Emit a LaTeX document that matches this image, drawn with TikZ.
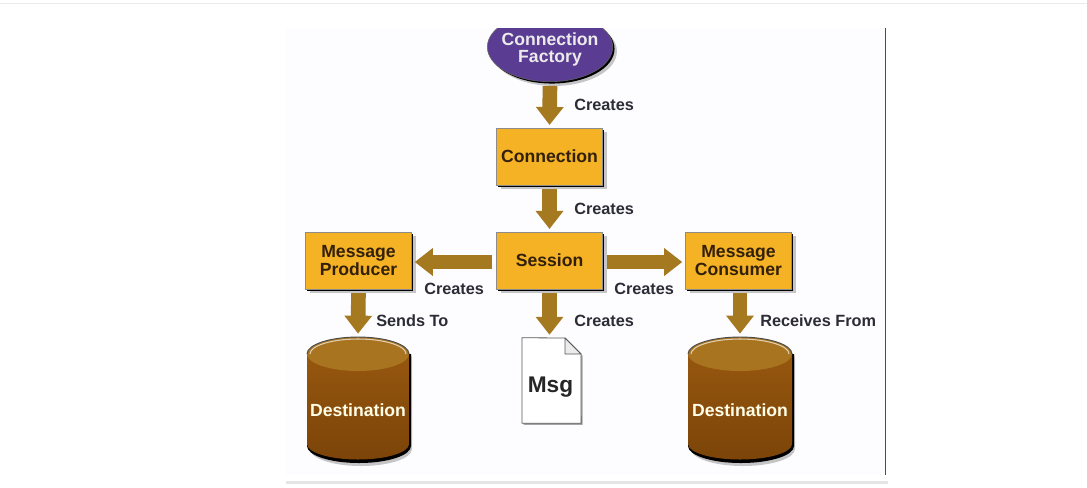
\documentclass[tikz,border=0pt]{standalone}
\usepackage{fontspec}
\setmainfont{Liberation Sans}
\usetikzlibrary{arrows.meta,shapes.geometric,shadows}
\definecolor{boxfill}{HTML}{F4B224}
\definecolor{flowc}{HTML}{A5791F}
\definecolor{cylbody}{HTML}{96570F}
\definecolor{cylbodyd}{HTML}{7C4409}
\definecolor{cyltop}{HTML}{A8741F}
\definecolor{factoryc}{HTML}{5A3C92}
\definecolor{inkb}{HTML}{33200A}
\definecolor{inkl}{HTML}{2C2C36}
\definecolor{panel}{HTML}{FDFCFE}
\tikzset{
  softshadow/.style={general shadow={fill=black,fill opacity=.22,shadow xshift=3.2pt,shadow yshift=-3.2pt}},
  hardshadow/.style={general shadow={fill=black,shadow xshift=1.4pt,shadow yshift=-1.4pt}},
  boxn/.style={rectangle,softshadow,hardshadow,fill=boxfill,draw=black!45,line width=.4pt,minimum width=79.6pt,minimum height=42.5pt,inner sep=0pt,align=center,
    font=\fontsize{13.2pt}{13.2pt}\selectfont\bfseries,text=inkb},
  factoryn/.style={ellipse,softshadow,hardshadow,fill=factoryc,draw=black!60,line width=.4pt,minimum width=94pt,minimum height=52pt,inner sep=0pt},
  factoryt/.style={inner sep=0pt,align=center,font=\fontsize{13.2pt}{13.2pt}\selectfont\bfseries,text=white!92!black},
  cyln/.style={rectangle,minimum height=94pt,inner sep=0pt,align=center,
    font=\fontsize{13.2pt}{13pt}\selectfont\bfseries,text=white!90!yellow},
  flow/.style={draw=flowc,line width=11pt,-{Triangle[width=20pt,length=13.5pt,fill=flowc]},shorten >=2.2pt,shorten <=3pt},
  lab/.style={anchor=west,inner sep=0pt,text=inkl,font=\fontsize{12.2pt}{13pt}\selectfont\bfseries},
  msgtext/.style={inner sep=0pt,text=black!85,font=\fontsize{17pt}{20pt}\selectfont\bfseries},
}
% cylinder: centre x, half width (the y axis points down, so arcs through 270 bulge upwards)
\newcommand{\destshape}[2]{%
  \path[fill=black,fill opacity=.22] (#1-#2+3,358) -- (#1-#2+3,449) arc[start angle=180,end angle=0,x radius=#2,y radius=17] -- (#1+#2+3,358) arc[start angle=360,end angle=180,x radius=#2,y radius=17] -- cycle;
  \path[fill=black] (#1-#2,354) -- (#1-#2,446) arc[start angle=180,end angle=0,x radius=#2+1,y radius=17] -- (#1+#2+2,354) -- cycle;
  \path[top color=cylbody,bottom color=cylbodyd] (#1-#2,354) -- (#1-#2,444) arc[start angle=180,end angle=0,x radius=#2,y radius=15.5] -- (#1+#2,354) -- cycle;
  \path[fill=cyltop] (#1,354) ellipse[x radius=#2,y radius=17];
  \draw[black!70,line width=.7pt] (#1-#2,354) arc[start angle=180,end angle=360,x radius=#2,y radius=17];
  \draw[white!65!cyltop,line width=.8pt] (#1-#2+3,354) arc[start angle=180,end angle=360,x radius=#2-3,y radius=15];
}
\begin{document}
\begin{tikzpicture}[x=.75pt,y=-.75pt]
\useasboundingbox (0,0) rectangle (1087,487);
\fill[white] (0,0) rectangle (1087,487);
\fill[black!8] (0,2.5) rectangle (1087,3.8);
\fill[panel] (286,28) rectangle (885,475);
\fill[black!10] (286,480.5) rectangle (888,483.5);
\fill[black!70] (885,28) rectangle (886.3,475);

\begin{scope}
\clip (440,28) rectangle (660,100);
\node[factoryn] (factory) at (550,47) {};
\end{scope}
\node[factoryt] (factorytext) at (550,49.5) {Connection\\Factory};

\node[boxn] (conn) at (549.5,156.5) {Connection};
\node[boxn] (sess) at (549.5,260.5) {Session};
\node[boxn] (prod) at (358.5,260.5) {Message\\Producer};
\node[boxn] (cons) at (738.5,260.5) {Message\\Consumer};

\destshape{358}{51}
\destshape{740}{52}
\node[cyln,minimum width=76.5pt] (dest1) at (358,399.5) {};
\node[cyln,minimum width=78pt] (dest2) at (740,399.5) {};
\node[cyln,minimum height=0pt] (dest1text) at (358,410) {Destination};
\node[cyln,minimum height=0pt] (dest2text) at (740,410) {Destination};

\node[inner sep=0pt,minimum width=44pt,minimum height=63.75pt] (msg) at (551.5,380.5) {};
\draw[fill=white,draw=black!65,line width=.6pt,general shadow={fill=black,fill opacity=.35,shadow xshift=1.2pt,shadow yshift=-1.2pt}]
  (msg.north west) -- (565,338) -- (581,354) -- (msg.south east) -- (msg.south west) -- cycle;
\draw[fill=black!8,draw=black!65,line width=.6pt,line join=round] (565,338) -- (565,354) -- (581,354) -- cycle;
\node[msgtext] (msglabel) at (550.5,387.5) {Msg};

\draw[flow] (factory.south) -- (conn.north);
\draw[flow] (conn.south) -- (sess.north);
\draw[flow] (sess.west |- 0,262) -- (prod.east |- 0,262);
\draw[flow] (sess.east |- 0,262) -- (cons.west |- 0,262);
\draw[flow] (prod.south) -- (dest1.north);
\draw[flow] (sess.south) -- (msg.north -| sess.south);
\draw[flow] (cons.south -| dest2.north) -- (dest2.north);

\node[lab] (l1) at (574,105) {Creates};
\node[lab] (l2) at (574,209) {Creates};
\node[lab] (l3) at (424,289) {Creates};
\node[lab] (l4) at (614,289) {Creates};
\node[lab] (l5) at (574,321) {Creates};
\node[lab] (l6) at (376,321) {Sends To};
\node[lab] (l7) at (760,321) {Receives From};
\end{tikzpicture}
\end{document}
